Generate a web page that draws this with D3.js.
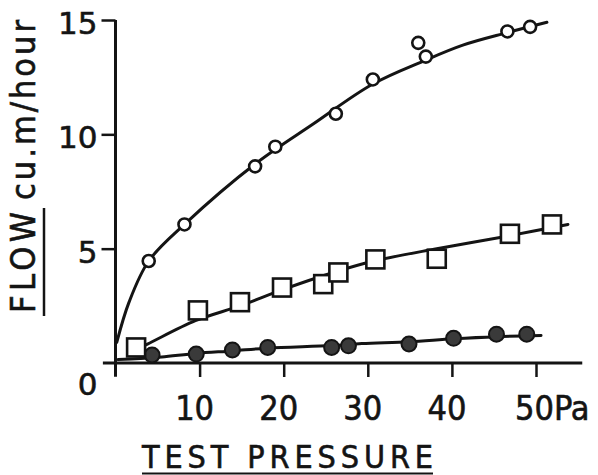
<!DOCTYPE html>
<html>
<head>
<meta charset="utf-8">
<script src="https://cdn.jsdelivr.net/npm/d3@7"></script>
<style>
	body { margin: 0; background: #fff; }
	text { fill: #141414; stroke: #141414; stroke-width: 0.6px; }
</style>
</head>
<body>
<svg id="chart" width="598" height="475"></svg>
<script>

// open circles (upper curve)
var openX = [3.95, 8.2, 16.6, 19.0, 26.2, 30.6, 36.0, 36.9, 46.6, 49.3];
var openY = [4.46, 6.06, 8.6, 9.46, 10.9, 12.4, 14.0, 13.4, 14.5, 14.7];
var openCurveX = [0.15, 1.6, 3.95, 8.2, 16.6, 23.5, 30.6, 36.6, 41.3, 46.6, 51.3];
var openCurveY = [0.9, 2.65, 4.46, 6.06, 8.7, 10.45, 12.2, 13.2, 13.9, 14.45, 14.9];

// squares (middle curve)
var squareX = [2.45, 9.8, 14.8, 19.8, 24.7, 26.5, 30.9, 38.2, 46.9, 51.9];
var squareY = [0.68, 2.3, 2.66, 3.3, 3.45, 3.96, 4.53, 4.56, 5.65, 6.06];
var squareCurveX = [2.4, 3.8, 9.5, 14.8, 19.8, 25.9, 30.6, 38.2, 46.9, 53.8];
var squareCurveY = [0.6, 0.83, 1.85, 2.5, 3.2, 3.96, 4.45, 5.0, 5.57, 6.06];

// filled circles (lower curve)
var dotX = [4.35, 9.6, 13.9, 18.1, 25.7, 27.7, 34.9, 40.2, 45.3, 48.9];
var dotY = [0.35, 0.39, 0.57, 0.68, 0.68, 0.75, 0.83, 1.08, 1.26, 1.26];
var dotCurveX = [0.3, 3.0, 5.5, 9.6, 13.9, 18.1, 25.7, 29.3, 34.9, 40.2, 45.3, 50.6];
var dotCurveY = [0.15, 0.2, 0.26, 0.42, 0.53, 0.65, 0.76, 0.85, 0.93, 1.06, 1.15, 1.2];

var xTicks = [10, 20, 30, 40, 50];
var xTickLabels = ["10", "20", "30", "40", "50Pa"];
var yTicks = [5, 10, 15];
var yTickLabels = ["5", "10", "15"];

var xTitle = "TEST PRESSURE";
var yTitleMain = "FLOW";
var yTitleUnit = "cu.m/hour";

var ink = "#141414";
var narrowFont = "'Liberation Sans Narrow', 'DejaVu Sans Condensed', 'DejaVu Sans', sans-serif";
var wideFont = "'DejaVu Sans', sans-serif";

var svg = d3.select("#chart");

var xScale = d3.scaleLinear().domain([0, 50]).range([115.5, 536]);
var yScale = d3.scaleLinear().domain([0, 15]).range([363, 20]);

function zipPoints(xs, ys) {
	return xs.map((d, i) => [d, ys[i]]);
}

function drawAxes() {

	var g = svg.append("g").attr("class", "axes");

	// y axis, runs a little below the baseline
	g.append("line")
		.attr("x1", xScale(0)).attr("x2", xScale(0))
		.attr("y1", yScale(15)).attr("y2", yScale(-0.6))
		.attr("stroke", ink).attr("stroke-width", 3);

	// x axis, runs a little left of the y axis
	g.append("line")
		.attr("x1", xScale(-1.5)).attr("x2", xScale(55.5))
		.attr("y1", yScale(0)).attr("y2", yScale(0))
		.attr("stroke", ink).attr("stroke-width", 3);

	var yAxis = d3.axisLeft(yScale)
		.tickValues(yTicks)
		.tickSize(14)
		.tickSizeOuter(0)
		.tickFormat("");

	var yg = g.append("g")
		.attr("transform", "translate(" + xScale(0) + ",0)")
		.call(yAxis);
	yg.select(".domain").remove();
	yg.selectAll(".tick line").attr("stroke", ink).attr("stroke-width", 2.5);

	var xAxis = d3.axisBottom(xScale)
		.tickValues(xTicks)
		.tickSize(14)
		.tickSizeOuter(0)
		.tickFormat("");

	var xg = g.append("g")
		.attr("transform", "translate(0," + yScale(0) + ")")
		.call(xAxis);
	xg.select(".domain").remove();
	xg.selectAll(".tick line").attr("stroke", ink).attr("stroke-width", 2.5);

	// y tick labels
	g.selectAll(".ylab")
		.data(yTicks)
		.enter()
		.append("text")
		.attr("class", "ylab")
		.attr("x", xScale(0) - 18)
		.attr("y", d => yScale(d) + 3)
		.attr("text-anchor", "end")
		.attr("dominant-baseline", "central")
		.attr("font-family", wideFont)
		.attr("font-size", 31)
		.text((d, i) => yTickLabels[i]);

	// the zero sits under the baseline
	g.append("text")
		.attr("x", xScale(0) - 18)
		.attr("y", yScale(0) + 21)
		.attr("text-anchor", "end")
		.attr("dominant-baseline", "central")
		.attr("font-family", wideFont)
		.attr("font-size", 31)
		.text("0");

	// x tick labels
	g.selectAll(".xlab")
		.data(xTicks)
		.enter()
		.append("text")
		.attr("class", "xlab")
		.attr("x", d => d == 50 ? xScale(d) - 21 : xScale(d) - 5)
		.attr("y", yScale(0) + 57)
		.attr("text-anchor", d => d == 50 ? "start" : "middle")
		.attr("font-family", narrowFont)
		.attr("font-size", 34)
		.text((d, i) => xTickLabels[i]);

}

function drawTitles() {

	var g = svg.append("g").attr("class", "titles");

	g.append("text")
		.attr("x", 142)
		.attr("y", 468)
		.attr("font-family", narrowFont)
		.attr("font-size", 32)
		.attr("textLength", 291)
		.attr("lengthAdjust", "spacing")
		.text(xTitle);

	g.append("line")
		.attr("x1", 142).attr("x2", 433)
		.attr("y1", 473.5).attr("y2", 473.5)
		.attr("stroke", ink).attr("stroke-width", 2);

	var yt = g.append("g").attr("transform", "translate(35,0) rotate(-90)");

	yt.append("text")
		.attr("x", -313)
		.attr("y", 0)
		.attr("font-family", narrowFont)
		.attr("font-size", 34)
		.attr("textLength", 101)
		.attr("lengthAdjust", "spacing")
		.text(yTitleMain);

	yt.append("text")
		.attr("x", -200)
		.attr("y", 0)
		.attr("font-family", narrowFont)
		.attr("font-size", 34)
		.attr("textLength", 180)
		.attr("lengthAdjust", "spacing")
		.text(yTitleUnit);

	// underline of FLOW
	g.append("line")
		.attr("x1", 44).attr("x2", 44)
		.attr("y1", 208).attr("y2", 316)
		.attr("stroke", ink).attr("stroke-width", 2.5);

}

function drawCurve(xs, ys) {

	var line = d3.line()
		.x(d => xScale(d[0]))
		.y(d => yScale(d[1]))
		.curve(d3.curveCatmullRom.alpha(0.5));

	svg.append("path")
		.datum(zipPoints(xs, ys))
		.attr("d", line)
		.attr("fill", "none")
		.attr("stroke", ink)
		.attr("stroke-width", 3)
		.attr("stroke-linecap", "round");

}

function drawMarkers() {

	var squareSize = 18;

	svg.append("g")
		.selectAll("circle")
		.data(zipPoints(dotX, dotY))
		.enter()
		.append("circle")
		.attr("cx", d => xScale(d[0]))
		.attr("cy", d => yScale(d[1]))
		.attr("r", 7.5)
		.attr("fill", "#3a3a3a")
		.attr("stroke", ink)
		.attr("stroke-width", 2);

	svg.append("g")
		.selectAll("rect")
		.data(zipPoints(squareX, squareY))
		.enter()
		.append("rect")
		.attr("x", d => xScale(d[0]) - squareSize / 2)
		.attr("y", d => yScale(d[1]) - squareSize / 2)
		.attr("width", squareSize)
		.attr("height", squareSize)
		.attr("fill", "#fff")
		.attr("stroke", ink)
		.attr("stroke-width", 2.6);

	svg.append("g")
		.selectAll("circle")
		.data(zipPoints(openX, openY))
		.enter()
		.append("circle")
		.attr("cx", d => xScale(d[0]))
		.attr("cy", d => yScale(d[1]))
		.attr("r", 6)
		.attr("fill", "#fff")
		.attr("stroke", ink)
		.attr("stroke-width", 2.6);

}

drawAxes();
drawTitles();
drawCurve(openCurveX, openCurveY);
drawCurve(squareCurveX, squareCurveY);
drawCurve(dotCurveX, dotCurveY);
drawMarkers();

</script>
</body>
</html>
